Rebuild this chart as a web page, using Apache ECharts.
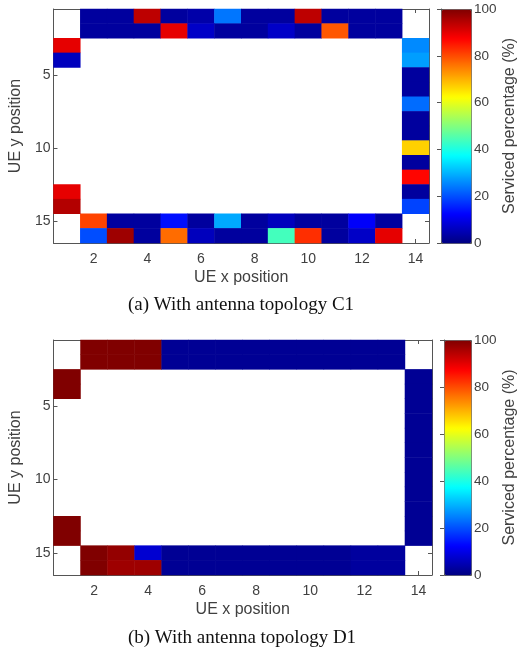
<!DOCTYPE html>
<html>
<head>
<meta charset="utf-8">
<script src="https://cdn.jsdelivr.net/npm/echarts@6/dist/echarts.min.js"></script>
<style>html,body{margin:0;padding:0;background:#fff}#c{width:520px;height:656px}</style>
</head>
<body>
<div id="c"></div>
<script>
// ---------- data ----------
const xCategories = ['1','2','3','4','5','6','7','8','9','10','11','12','13','14'];
const yCategories = ['1','2','3','4','5','6','7','8','9','10','11','12','13','14','15','16'];
const xTickLabels = ['2','4','6','8','10','12','14'];
const yTickLabels = ['5','10','15'];
const colorbarTicks = [0, 20, 40, 60, 80, 100];

// Topology C1 (serviced %), null = no UE
const c1Row1  = [null, 3, 3, 94, 3, 4, 24, 3, 3, 94, 3, 3, 3, null];
const c1Row2  = [null, 3, 3, 3, 90, 7, 3, 3, 7, 3, 79, 3, 3, null];
const c1Row15 = [null, 81, 3, 3, 14, 3, 29, 3, 6, 3, 3, 12, 3, null];
const c1Row16 = [null, 20, 97, 3, 77, 6, 3, 3, 44, 83, 3, 7, 90, null];
const c1Col1  = [90, 6, null, null, null, null, null, null, null, null, 90, 95]; // rows 3..14
const c1Col14 = [26, 28, 3, 3, 23, 3, 3, 67, 3, 87, 3, 19];                       // rows 3..14

// Topology D1
const d1Row1  = [null, 100, 100, 100, 2, 2, 2, 2, 2, 2, 2, 2, 2, null];
const d1Row2  = [null, 100, 100, 100, 2, 2, 2, 2, 2, 2, 2, 2, 2, null];
const d1Row15 = [null, 100, 98, 8, 2, 2, 2, 2, 2, 2, 2, 3, 3, null];
const d1Row16 = [null, 100, 97, 97, 2, 2, 2, 2, 2, 2, 2, 3, 3, null];
const d1Col1  = [100, 100, null, null, null, null, null, null, null, null, 100, 100]; // rows 3..14
const d1Col14 = [2, 2, 2, 2, 2, 2, 2, 2, 2, 2, 2, 2];                                // rows 3..14

const jet = ['#000080','#0000ff','#0080ff','#00ffff','#80ff80','#ffff00','#ff8000','#ff0000','#800000'];

function buildCells(r1, r2, r15, r16, col1, col14) {
  const out = [];
  const addRow = (arr, rowIdx) => arr.forEach((v, i) => { if (v !== null) out.push([i, rowIdx, v]); });
  addRow(r1, 0); addRow(r2, 1); addRow(r15, 14); addRow(r16, 15);
  col1.forEach((v, k) => { if (v !== null) out.push([0, k + 2, v]); });
  col14.forEach((v, k) => { if (v !== null) out.push([13, k + 2, v]); });
  return out;
}
const c1Cells = buildCells(c1Row1, c1Row2, c1Row15, c1Row16, c1Col1, c1Col14);
const d1Cells = buildCells(d1Row1, d1Row2, d1Row15, d1Row16, d1Col1, d1Col14);

// ---------- style ----------
const TXT = '#404040';
const LINE = '#555555';
const SANS = 'Liberation Sans, Arial, sans-serif';
const xTickFn = (i, v) => xTickLabels.indexOf(String(v)) >= 0;
const yTickFn = (i, v) => yTickLabels.indexOf(String(v)) >= 0;

function xAx(grid, pos, showLabel) {
  return {
    type: 'category', gridIndex: grid, position: pos, data: xCategories,
    axisLine: { show: true, onZero: false, lineStyle: { color: LINE, width: 1 } },
    axisTick: { show: true, inside: true, length: 4, alignWithLabel: true, interval: xTickFn, lineStyle: { color: LINE } },
    axisLabel: { show: showLabel, interval: xTickFn, margin: 9, color: TXT, fontSize: 14, fontFamily: SANS },
    splitLine: { show: false },
    name: showLabel ? 'UE x position' : '', nameLocation: 'middle', nameGap: 27,
    nameTextStyle: { color: TXT, fontSize: 16, fontFamily: SANS }
  };
}
function yAx(grid, pos, showLabel) {
  return {
    type: 'category', gridIndex: grid, position: pos, data: yCategories, inverse: true,
    axisLine: { show: true, onZero: false, lineStyle: { color: LINE, width: 1 } },
    axisTick: { show: true, inside: true, length: 4, alignWithLabel: true, interval: yTickFn, lineStyle: { color: LINE } },
    axisLabel: { show: showLabel, interval: yTickFn, margin: 3, color: TXT, fontSize: 14, fontFamily: SANS },
    splitLine: { show: false },
    name: showLabel ? 'UE y position' : '', nameLocation: 'middle', nameGap: 25, nameRotate: 90,
    nameTextStyle: { color: TXT, fontSize: 16, fontFamily: SANS }
  };
}
function cbX(grid) {
  return { type: 'value', gridIndex: grid, show: false, min: 0, max: 1 };
}
function cbY(grid) {
  return {
    type: 'value', gridIndex: grid, position: 'right', min: colorbarTicks[0], max: colorbarTicks[colorbarTicks.length - 1],
    interval: colorbarTicks[1] - colorbarTicks[0],
    axisLine: { show: true, lineStyle: { color: LINE } },
    axisTick: { show: true, inside: true, length: 4, lineStyle: { color: LINE } },
    axisLabel: { show: true, margin: 3, color: TXT, fontSize: 13.5, fontFamily: SANS },
    splitLine: { show: false },
    name: 'Serviced percentage (%)', nameLocation: 'middle', nameGap: 31, nameRotate: 90,
    nameTextStyle: { color: TXT, fontSize: 16, fontFamily: SANS }
  };
}

const option = {
  backgroundColor: '#fff',
  animation: false,
  grid: [
    { left: 52, top: 9, width: 377, height: 234 },
    { left: 52, top: 340, width: 380, height: 235 },
    { left: 441, top: 9, width: 30, height: 234 },
    { left: 444, top: 340, width: 27, height: 235 }
  ],
  xAxis: [xAx(0, 'bottom', true), xAx(0, 'top', false), xAx(1, 'bottom', true), xAx(1, 'top', false), cbX(2), cbX(3)],
  yAxis: [yAx(0, 'left', true), yAx(0, 'right', false), yAx(1, 'left', true), yAx(1, 'right', false), cbY(2), cbY(3)],
  visualMap: [
    { type: 'continuous', seriesIndex: 0, min: 0, max: 100, calculable: false, orient: 'vertical',
      left: 441, top: 9, itemWidth: 30, itemHeight: 234, padding: 0, text: null,
      borderColor: LINE, borderWidth: 1, inRange: { color: jet }, textStyle: { color: 'transparent' } },
    { type: 'continuous', seriesIndex: 1, min: 0, max: 100, calculable: false, orient: 'vertical',
      left: 444, top: 340, itemWidth: 27, itemHeight: 235, padding: 0, text: null,
      borderColor: LINE, borderWidth: 1, inRange: { color: jet }, textStyle: { color: 'transparent' } }
  ],
  series: [
    { type: 'heatmap', xAxisIndex: 0, yAxisIndex: 0, data: c1Cells, itemStyle: { borderWidth: 0 }, emphasis: { disabled: true } },
    { type: 'heatmap', xAxisIndex: 2, yAxisIndex: 2, data: d1Cells, itemStyle: { borderWidth: 0 }, emphasis: { disabled: true } }
  ],
  graphic: [
    { type: 'text', x: 241, y: 305, style: { text: '(a) With antenna topology C1', fill: '#111', fontSize: 19,
      fontFamily: 'Liberation Serif, Times New Roman, serif', align: 'center', verticalAlign: 'middle' } },
    { type: 'text', x: 242, y: 638, style: { text: '(b) With antenna topology D1', fill: '#111', fontSize: 19,
      fontFamily: 'Liberation Serif, Times New Roman, serif', align: 'center', verticalAlign: 'middle' } }
  ]
};

const chart = echarts.init(document.getElementById('c'), null, { renderer: 'canvas' });
chart.setOption(option);
</script>
</body>
</html>
